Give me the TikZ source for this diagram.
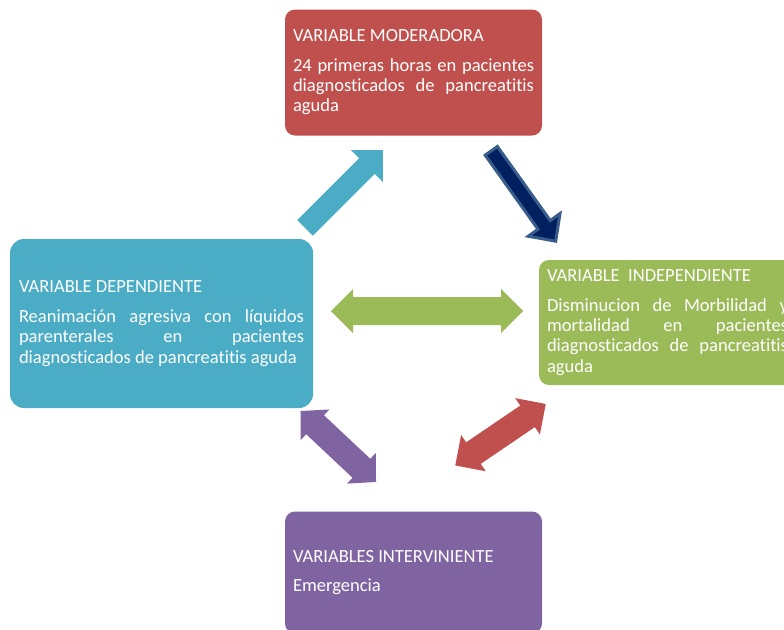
\documentclass[tikz,border=0pt]{standalone}
\usepackage{fontspec}
\setmainfont{Carlito}[Ligatures=NoCommon]
\usetikzlibrary{positioning}
\definecolor{redbox}{HTML}{C0504D}
\definecolor{greenbox}{HTML}{9BBB59}
\definecolor{bluebox}{HTML}{4BACC6}
\definecolor{purplebox}{HTML}{8064A2}
\definecolor{navyfill}{HTML}{002060}
\definecolor{navyedge}{HTML}{385D8A}
% block arrows: style, centre, angle, half length, half shaft, half head, head length
\newcommand{\onearrow}[7]{\draw[#1,shift={#2},rotate=#3] (-#4,-#5) -- (#4-#7,-#5) -- (#4-#7,-#6) -- (#4,0) -- (#4-#7,#6) -- (#4-#7,#5) -- (-#4,#5) -- cycle;}
\newcommand{\twoarrow}[7]{\draw[#1,shift={#2},rotate=#3] (-#4,0) -- (-#4+#7,-#6) -- (-#4+#7,-#5) -- (#4-#7,-#5) -- (#4-#7,-#6) -- (#4,0) -- (#4-#7,#6) -- (#4-#7,#5) -- (-#4+#7,#5) -- (-#4+#7,#6) -- cycle;}

\begin{document}
\begin{tikzpicture}[line join=miter,x=0.75pt,y=-0.75pt,
  varbox/.style={rectangle,rounded corners=7.5pt,inner sep=0pt,text=white,align=justify,
    text width=180.75pt,minimum width=192.75pt,font=\fontsize{13.9}{15.2}\selectfont}]
\useasboundingbox (0,0) rectangle (784,629);
\clip (0,0) rectangle (784,629);
% boxes
\node[varbox,fill=redbox,minimum height=94.5pt] (moderadora) at (413.5,72.5)
  {VARIABLE MODERADORA\par\vspace{7pt}
   24 primeras horas en pacientes\linebreak diagnosticados de pancreatitis\linebreak aguda};
\node[varbox,fill=greenbox,minimum height=93.75pt] (independiente) at (667.5,322.5)
  {VARIABLE~~INDEPENDIENTE\par\vspace{7pt}
   Disminucion de Morbilidad y\linebreak mortalidad en pacientes\linebreak diagnosticados de pancreatitis\linebreak aguda};
\node[varbox,fill=bluebox,rounded corners=10.5pt,text width=213.75pt,minimum width=227.25pt,minimum height=126.75pt] (dependiente) at (161.5,323.5)
  {VARIABLE DEPENDIENTE\par\vspace{7.5pt}
   Reanimación agresiva con líquidos\linebreak parenterales en pacientes\linebreak diagnosticados de pancreatitis aguda};
\node[varbox,fill=purplebox,minimum height=91.5pt] (interviniente) at (413.5,572.5)
  {VARIABLES INTERVINIENTE\par\vspace{7pt}
   Emergencia};
% arrows
\onearrow{fill=bluebox,draw=none}{(344,189)}{45}{55}{11}{22.6}{22.6}
\onearrow{fill=navyfill,draw=navyedge,line width=2.25pt}{(523.5,196)}{-54.5}{55.5}{7.5}{19.5}{20}
\twoarrow{fill=greenbox,draw=none}{(427,311)}{0}{96}{14}{22}{22}
\twoarrow{fill=purplebox,draw=none}{(338.25,446.5)}{-43.2}{51.8}{13}{21}{20}
\twoarrow{fill=redbox,draw=none}{(500.5,434.7)}{34.2}{54.7}{13}{22}{22}
\end{tikzpicture}
\end{document}
